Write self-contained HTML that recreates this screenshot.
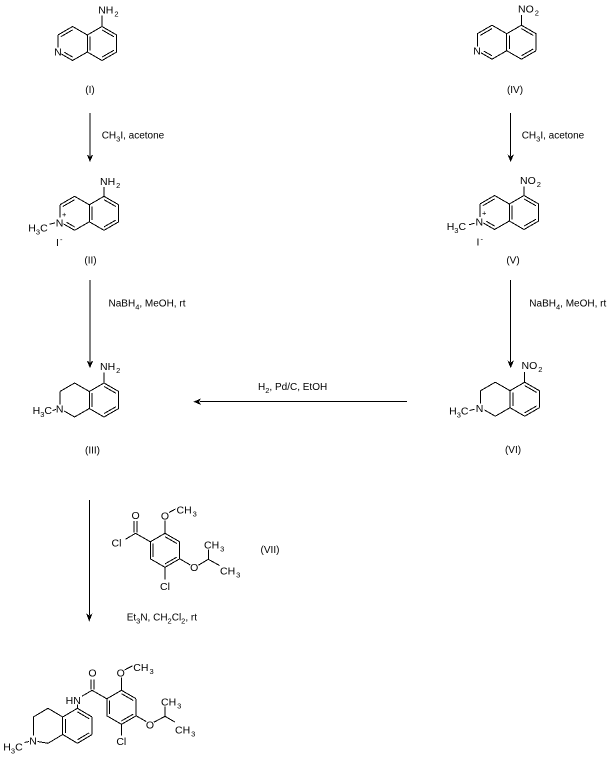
<!DOCTYPE html>
<html><head><meta charset="utf-8"><style>
html,body{margin:0;padding:0;background:#fff;}
svg{display:block;}
text{font-family:"Liberation Sans",Arial,sans-serif;fill:#000;}
.a{font-size:10.5px;}
.r{font-size:10px;}
.s{font-size:7.5px;}
line,polyline{stroke:#000;stroke-width:1;fill:none;shape-rendering:crispEdges;}
polygon{shape-rendering:crispEdges;}
</style></head><body>
<svg width="607" height="760" viewBox="0 0 607 760" xmlns="http://www.w3.org/2000/svg">
<rect width="607" height="760" fill="#fff"/>

<!-- (I) -->
<g>
<line x1="57.9" y1="35" x2="72.6" y2="26.5"/><line x1="72.6" y1="26.5" x2="87.3" y2="35"/>
<line x1="87.3" y1="35" x2="87.3" y2="52"/><line x1="87.3" y1="52" x2="72.6" y2="60.5"/>
<line x1="72.6" y1="60.5" x2="61.5" y2="54.1"/><line x1="57.9" y1="47.5" x2="57.9" y2="35"/>
<line x1="87.3" y1="35" x2="102" y2="26.5"/><line x1="102" y1="26.5" x2="116.7" y2="35"/>
<line x1="116.7" y1="35" x2="116.7" y2="52"/><line x1="116.7" y1="52" x2="102" y2="60.5"/>
<line x1="102" y1="60.5" x2="87.3" y2="52"/>
<line x1="60.8" y1="36.7" x2="72.6" y2="29.9"/><line x1="64.4" y1="52.3" x2="72.6" y2="57.1"/>
<line x1="90.2" y1="36.7" x2="90.2" y2="50.3"/><line x1="102" y1="29.9" x2="113.8" y2="36.7"/>
<line x1="113.8" y1="50.3" x2="102" y2="57.1"/>
<line x1="102" y1="26.5" x2="102" y2="15.5"/>
<text class="a" x="57.9" y="55.7" text-anchor="middle">N</text>
<text class="a" x="98.2" y="13.5">NH<tspan class="s" dx="1" dy="3">2</tspan></text>
<text class="r" x="90" y="93" text-anchor="middle">(I)</text>
</g>

<!-- arrow 1 -->
<line x1="90" y1="113" x2="90" y2="156"/>
<polygon points="86.8,154.5 90,156.5 93.2,154.5 90,162" fill="#000"/>
<text class="r" x="101.7" y="138.5">CH<tspan class="s" dy="3">3</tspan><tspan dy="-3">I, acetone</tspan></text>

<!-- (II) -->
<g>
<line x1="59.9" y1="204.8" x2="74.6" y2="196.3"/><line x1="74.6" y1="196.3" x2="89.3" y2="204.8"/>
<line x1="89.3" y1="204.8" x2="89.3" y2="221.8"/><line x1="89.3" y1="221.8" x2="74.6" y2="230.3"/>
<line x1="74.6" y1="230.3" x2="63.5" y2="223.9"/><line x1="59.9" y1="217.5" x2="59.9" y2="204.8"/>
<line x1="89.3" y1="204.8" x2="104" y2="196.3"/><line x1="104" y1="196.3" x2="118.7" y2="204.8"/>
<line x1="118.7" y1="204.8" x2="118.7" y2="221.8"/><line x1="118.7" y1="221.8" x2="104" y2="230.3"/>
<line x1="104" y1="230.3" x2="89.3" y2="221.8"/>
<line x1="62.8" y1="206.5" x2="74.6" y2="199.7"/><line x1="66.4" y1="222.2" x2="74.6" y2="226.9"/>
<line x1="92.2" y1="206.5" x2="92.2" y2="220.1"/><line x1="104" y1="199.7" x2="115.8" y2="206.5"/>
<line x1="115.8" y1="220.1" x2="104" y2="226.9"/>
<line x1="104" y1="196.3" x2="104" y2="187"/>
<text class="a" x="100" y="185">NH<tspan class="s" dx="1" dy="3">2</tspan></text>
<text class="a" x="59.6" y="226.5" text-anchor="middle">N</text>
<text class="s" x="62" y="217">+</text>
<text class="a" x="28.3" y="231.5">H<tspan class="s" dy="3">3</tspan><tspan dy="-3">C</tspan></text>
<line x1="49.5" y1="224.3" x2="55" y2="222.8"/>
<text class="a" x="56" y="246">I</text>
<text class="s" x="60" y="242">-</text>
<text class="r" x="90.5" y="263.5" text-anchor="middle">(II)</text>
</g>

<!-- arrow 2 -->
<line x1="90" y1="280" x2="90" y2="362"/>
<polygon points="86.8,360.5 90,362.5 93.2,360.5 90,368.3" fill="#000"/>
<text class="r" x="108.5" y="306.5">NaBH<tspan class="s" dy="3">4</tspan><tspan dy="-3">, MeOH, rt</tspan></text>

<!-- (III) -->
<g>
<line x1="59.9" y1="391.5" x2="74.6" y2="383"/><line x1="74.6" y1="383" x2="89.3" y2="391.5"/>
<line x1="89.3" y1="391.5" x2="89.3" y2="408.5"/><line x1="89.3" y1="408.5" x2="74.6" y2="417"/>
<line x1="74.6" y1="417" x2="64" y2="410.9"/><line x1="59.9" y1="404.5" x2="59.9" y2="391.5"/>
<line x1="89.3" y1="391.5" x2="104" y2="383"/><line x1="104" y1="383" x2="118.7" y2="391.5"/>
<line x1="118.7" y1="391.5" x2="118.7" y2="408.5"/><line x1="118.7" y1="408.5" x2="104" y2="417"/>
<line x1="104" y1="417" x2="89.3" y2="408.5"/>
<line x1="92.2" y1="393.2" x2="92.2" y2="406.8"/><line x1="104" y1="386.4" x2="115.8" y2="393.2"/>
<line x1="115.8" y1="406.8" x2="104" y2="413.6"/>
<line x1="104" y1="383" x2="104" y2="372.5"/>
<text class="a" x="100" y="370">NH<tspan class="s" dx="1" dy="3">2</tspan></text>
<text class="a" x="59.7" y="412.5" text-anchor="middle">N</text>
<text class="a" x="52" y="414" text-anchor="end">H<tspan class="s" dy="3">3</tspan><tspan dy="-3">C</tspan></text>
<line x1="52.5" y1="410.5" x2="56" y2="409.5"/>
<text class="r" x="92.5" y="453.5" text-anchor="middle">(III)</text>
</g>

<!-- (IV) -->
<g>
<line x1="477.3" y1="33.7" x2="492" y2="25.2"/><line x1="492" y1="25.2" x2="506.7" y2="33.7"/>
<line x1="506.7" y1="33.7" x2="506.7" y2="50.7"/><line x1="506.7" y1="50.7" x2="492" y2="59.2"/>
<line x1="492" y1="59.2" x2="481" y2="52.8"/><line x1="477.3" y1="46.3" x2="477.3" y2="33.7"/>
<line x1="506.7" y1="33.7" x2="521.4" y2="25.2"/><line x1="521.4" y1="25.2" x2="536.1" y2="33.7"/>
<line x1="536.1" y1="33.7" x2="536.1" y2="50.7"/><line x1="536.1" y1="50.7" x2="521.4" y2="59.2"/>
<line x1="521.4" y1="59.2" x2="506.7" y2="50.7"/>
<line x1="480.2" y1="35.4" x2="492" y2="28.6"/><line x1="483.8" y1="51.1" x2="492" y2="55.8"/>
<line x1="509.6" y1="35.4" x2="509.6" y2="49"/><line x1="521.4" y1="28.6" x2="533.2" y2="35.4"/>
<line x1="533.2" y1="49" x2="521.4" y2="55.8"/>
<line x1="521.4" y1="25.2" x2="521.4" y2="15"/>
<text class="a" x="518" y="12.7">NO<tspan class="s" dx="1" dy="3">2</tspan></text>
<text class="a" x="477" y="54.5" text-anchor="middle">N</text>
<text class="r" x="515" y="93" text-anchor="middle">(IV)</text>
</g>

<!-- arrow 3 -->
<line x1="510.7" y1="113" x2="510.7" y2="156"/>
<polygon points="507.5,154.5 510.7,156.5 513.9,154.5 510.7,162" fill="#000"/>
<text class="r" x="521.7" y="138.5">CH<tspan class="s" dy="3">3</tspan><tspan dy="-3">I, acetone</tspan></text>

<!-- (V) -->
<g>
<line x1="479.9" y1="204" x2="494.6" y2="195.5"/><line x1="494.6" y1="195.5" x2="509.3" y2="204"/>
<line x1="509.3" y1="204" x2="509.3" y2="221"/><line x1="509.3" y1="221" x2="494.6" y2="229.5"/>
<line x1="494.6" y1="229.5" x2="483.5" y2="223.1"/><line x1="479.9" y1="216.8" x2="479.9" y2="204"/>
<line x1="509.3" y1="204" x2="524" y2="195.5"/><line x1="524" y1="195.5" x2="538.7" y2="204"/>
<line x1="538.7" y1="204" x2="538.7" y2="221"/><line x1="538.7" y1="221" x2="524" y2="229.5"/>
<line x1="524" y1="229.5" x2="509.3" y2="221"/>
<line x1="482.8" y1="205.7" x2="494.6" y2="198.9"/><line x1="486.4" y1="221.3" x2="494.6" y2="226.1"/>
<line x1="512.2" y1="205.7" x2="512.2" y2="219.3"/><line x1="524" y1="198.9" x2="535.8" y2="205.7"/>
<line x1="535.8" y1="219.3" x2="524" y2="226.1"/>
<line x1="524" y1="195.5" x2="524" y2="186.5"/>
<text class="a" x="520" y="184">NO<tspan class="s" dx="1" dy="3">2</tspan></text>
<text class="a" x="479.3" y="225.5" text-anchor="middle">N</text>
<text class="s" x="482" y="215.5">+</text>
<text class="a" x="446.7" y="230">H<tspan class="s" dy="3">3</tspan><tspan dy="-3">C</tspan></text>
<line x1="469" y1="224.8" x2="474.5" y2="223.2"/>
<text class="a" x="476.5" y="245.5">I</text>
<text class="s" x="480.5" y="241.5">-</text>
<text class="r" x="513" y="263.5" text-anchor="middle">(V)</text>
</g>

<!-- arrow 4 -->
<line x1="510.7" y1="280" x2="510.7" y2="362"/>
<polygon points="507.5,360.5 510.7,362.5 513.9,360.5 510.7,368.3" fill="#000"/>
<text class="r" x="529.3" y="306.5">NaBH<tspan class="s" dy="3">4</tspan><tspan dy="-3">, MeOH, rt</tspan></text>

<!-- (VI) -->
<g>
<line x1="480.6" y1="390.7" x2="495.3" y2="382.2"/><line x1="495.3" y1="382.2" x2="510" y2="390.7"/>
<line x1="510" y1="390.7" x2="510" y2="407.7"/><line x1="510" y1="407.7" x2="495.3" y2="416.2"/>
<line x1="495.3" y1="416.2" x2="484.5" y2="410"/><line x1="480.6" y1="403.5" x2="480.6" y2="390.7"/>
<line x1="510" y1="390.7" x2="524.7" y2="382.2"/><line x1="524.7" y1="382.2" x2="539.4" y2="390.7"/>
<line x1="539.4" y1="390.7" x2="539.4" y2="407.7"/><line x1="539.4" y1="407.7" x2="524.7" y2="416.2"/>
<line x1="524.7" y1="416.2" x2="510" y2="407.7"/>
<line x1="512.9" y1="392.4" x2="512.9" y2="406"/><line x1="524.7" y1="385.6" x2="536.5" y2="392.4"/>
<line x1="536.5" y1="406" x2="524.7" y2="412.8"/>
<line x1="524.7" y1="382.2" x2="524.7" y2="372"/>
<text class="a" x="521.5" y="369">NO<tspan class="s" dx="1" dy="3">2</tspan></text>
<text class="a" x="479.5" y="412" text-anchor="middle">N</text>
<text class="a" x="468.5" y="414.5" text-anchor="end">H<tspan class="s" dy="3">3</tspan><tspan dy="-3">C</tspan></text>
<line x1="469.5" y1="410.5" x2="474.5" y2="409.3"/>
<text class="r" x="513" y="453" text-anchor="middle">(VI)</text>
</g>

<!-- horizontal arrow -->
<line x1="200" y1="401.7" x2="407" y2="401.7"/>
<polygon points="193.3,401.7 201,398.5 199,401.7 201,404.9" fill="#000"/>
<text class="r" x="258" y="390">H<tspan class="s" dy="3">2</tspan><tspan dy="-3">, Pd/C, EtOH</tspan></text>

<!-- bottom arrow -->
<line x1="89.3" y1="500" x2="89.3" y2="615"/>
<polygon points="86.1,613.5 89.3,615.5 92.5,613.5 89.3,621.7" fill="#000"/>
<text class="r" x="126.7" y="620.5">Et<tspan class="s" dy="3">3</tspan><tspan dy="-3">N, CH</tspan><tspan class="s" dy="3">2</tspan><tspan dy="-3">Cl</tspan><tspan class="s" dy="3">2</tspan><tspan dy="-3">, rt</tspan></text>

<!-- (VII) -->
<g>
<line x1="150.3" y1="541.8" x2="165" y2="533.3"/><line x1="165" y1="533.3" x2="179.7" y2="541.8"/>
<line x1="179.7" y1="541.8" x2="179.7" y2="558.8"/><line x1="179.7" y1="558.8" x2="165" y2="567.3"/>
<line x1="165" y1="567.3" x2="150.3" y2="558.8"/><line x1="150.3" y1="558.8" x2="150.3" y2="541.8"/>
<line x1="165" y1="536.7" x2="176.8" y2="543.5"/><line x1="176.8" y1="557.1" x2="165" y2="563.9"/>
<line x1="153.2" y1="557.1" x2="153.2" y2="543.5"/>
<line x1="150.3" y1="541.8" x2="135.6" y2="533.3"/>
<line x1="134.2" y1="532.5" x2="134.2" y2="521"/><line x1="137" y1="532.5" x2="137" y2="521"/>
<text class="a" x="135.6" y="519" text-anchor="middle">O</text>
<line x1="135.6" y1="533.3" x2="125.5" y2="539.2"/>
<text class="a" x="111.5" y="546.5">Cl</text>
<line x1="165" y1="533.3" x2="165" y2="520.5"/>
<text class="a" x="165" y="519.5" text-anchor="middle">O</text>
<line x1="169" y1="512.5" x2="175.5" y2="509"/>
<text class="a" x="176.5" y="513.5">CH<tspan class="s" dx="1" dy="3">3</tspan></text>
<line x1="179.7" y1="558.8" x2="190.3" y2="565"/>
<text class="a" x="194.2" y="571" text-anchor="middle">O</text>
<line x1="198.3" y1="565.3" x2="208.3" y2="559.3"/>
<line x1="208.3" y1="559.3" x2="208.3" y2="549.5"/>
<text class="a" x="204" y="548.5">CH<tspan class="s" dx="1" dy="3">3</tspan></text>
<line x1="208.3" y1="559.3" x2="219.5" y2="565.5"/>
<text class="a" x="220" y="574.5">CH<tspan class="s" dx="1" dy="3">3</tspan></text>
<line x1="165" y1="567.3" x2="165" y2="579.5"/>
<text class="a" x="165" y="590" text-anchor="middle">Cl</text>
<text class="r" x="270" y="553" text-anchor="middle">(VII)</text>
</g>

<!-- product -->
<g>
<line x1="106.8" y1="698.8" x2="121.5" y2="690.3"/><line x1="121.5" y1="690.3" x2="136.2" y2="698.8"/>
<line x1="136.2" y1="698.8" x2="136.2" y2="715.8"/><line x1="136.2" y1="715.8" x2="121.5" y2="724.3"/>
<line x1="121.5" y1="724.3" x2="106.8" y2="715.8"/><line x1="106.8" y1="715.8" x2="106.8" y2="698.8"/>
<line x1="121.5" y1="693.7" x2="133.3" y2="700.5"/><line x1="133.3" y1="714.1" x2="121.5" y2="720.9"/>
<line x1="109.7" y1="714.1" x2="109.7" y2="700.5"/>
<line x1="106.8" y1="698.8" x2="92.1" y2="690.3"/>
<line x1="91" y1="689.5" x2="91" y2="679.5"/><line x1="93.8" y1="689.5" x2="93.8" y2="679.5"/>
<text class="a" x="92.5" y="676.5" text-anchor="middle">O</text>
<line x1="92.1" y1="690.3" x2="82" y2="696.2"/>
<text class="a" x="80.8" y="704" text-anchor="end">HN</text>
<line x1="77.4" y1="704.5" x2="77.4" y2="708.3"/>
<line x1="62.7" y1="717" x2="77.4" y2="708.3"/><line x1="77.4" y1="708.3" x2="92.1" y2="717"/>
<line x1="92.1" y1="717" x2="92.1" y2="734.5"/><line x1="92.1" y1="734.5" x2="77.4" y2="743.3"/>
<line x1="77.4" y1="743.3" x2="62.7" y2="734.5"/><line x1="62.7" y1="734.5" x2="62.7" y2="717"/>
<line x1="65.6" y1="718.8" x2="65.6" y2="732.8"/><line x1="77.4" y1="711.8" x2="89.2" y2="718.8"/>
<line x1="89.2" y1="732.8" x2="77.4" y2="739.8"/>
<line x1="62.7" y1="717" x2="48" y2="708.3"/><line x1="48" y1="708.3" x2="33.3" y2="717"/>
<line x1="33.3" y1="717" x2="33.3" y2="735.5"/>
<line x1="37.5" y1="741.5" x2="48" y2="743.3"/><line x1="48" y1="743.3" x2="62.7" y2="734.5"/>
<text class="a" x="33" y="744.5" text-anchor="middle">N</text>
<text class="a" x="3.3" y="750.5">H<tspan class="s" dy="3">3</tspan><tspan dy="-3">C</tspan></text>
<line x1="24.5" y1="742.5" x2="29" y2="741.5"/>
<line x1="121.5" y1="690.3" x2="121.5" y2="677.5"/>
<text class="a" x="120.7" y="676.5" text-anchor="middle">O</text>
<line x1="124.5" y1="670" x2="132.5" y2="665.8"/>
<text class="a" x="133.3" y="671">CH<tspan class="s" dx="1" dy="3">3</tspan></text>
<line x1="136.2" y1="715.8" x2="146.3" y2="721.6"/>
<text class="a" x="150" y="728.5" text-anchor="middle">O</text>
<line x1="153.8" y1="722.3" x2="165" y2="716.3"/>
<line x1="165" y1="716.3" x2="165" y2="706.5"/>
<text class="a" x="161" y="705.3">CH<tspan class="s" dx="1" dy="3">3</tspan></text>
<line x1="165" y1="716.3" x2="174.8" y2="722"/>
<text class="a" x="175" y="733.5">CH<tspan class="s" dx="1" dy="3">3</tspan></text>
<line x1="121.5" y1="724.3" x2="121.5" y2="735.5"/>
<text class="a" x="121.3" y="745" text-anchor="middle">Cl</text>
</g>
</svg>
</body></html>
